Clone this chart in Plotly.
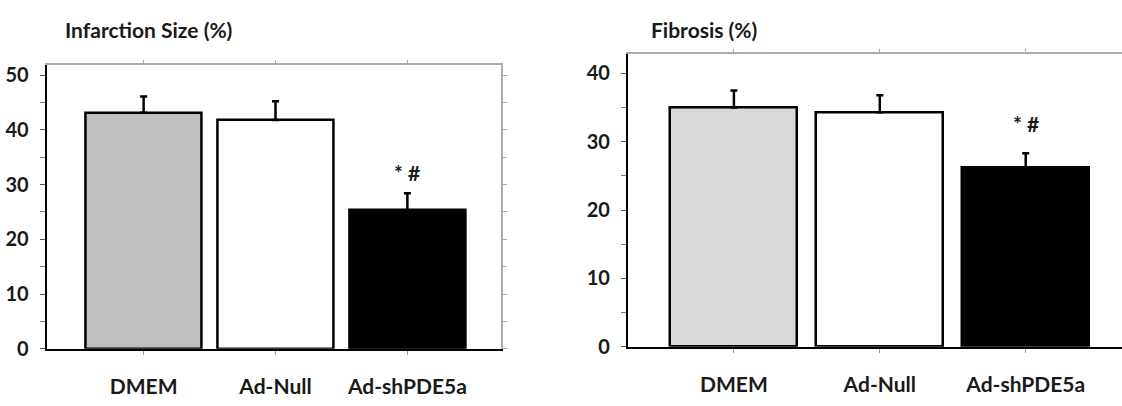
import plotly.graph_objects as go

categories = ["DMEM", "Ad-Null", "Ad-shPDE5a"]

infarct_mean = [43.1, 41.8, 25.3]
infarct_err = [3.0, 3.4, 3.1]

fibrosis_mean = [35.0, 34.3, 26.2]
fibrosis_err = [2.5, 2.5, 2.1]

sig_label = ["", "", "* #"]

left_colors = ["#bfbfbf", "#ffffff", "#000000"]
right_colors = ["#d9d9d9", "#ffffff", "#000000"]

FONT = "Lato"
idx = list(range(len(categories)))
bold_cats = ["<b>" + c + "</b>" for c in categories]

fig = go.Figure()

fig.add_trace(go.Bar(
    x=idx, y=infarct_mean, width=0.88,
    marker=dict(color=left_colors, line=dict(color="#000000", width=2.5)),
    error_y=dict(type="data", array=infarct_err, arrayminus=[0] * 3, symmetric=False,
                 color="#000000", thickness=2.5, width=3.5),
    xaxis="x", yaxis="y", showlegend=False, hoverinfo="skip",
))
fig.add_trace(go.Bar(
    x=idx, y=fibrosis_mean, width=0.87,
    marker=dict(color=right_colors, line=dict(color="#000000", width=2.5)),
    error_y=dict(type="data", array=fibrosis_err, arrayminus=[0] * 3, symmetric=False,
                 color="#000000", thickness=2.5, width=3.5),
    xaxis="x2", yaxis="y2", showlegend=False, hoverinfo="skip",
))
fig.add_trace(go.Scatter(x=[None], y=[None], xaxis="x3", yaxis="y3", showlegend=False, hoverinfo="skip"))
fig.add_trace(go.Scatter(x=[None], y=[None], xaxis="x4", yaxis="y4", showlegend=False, hoverinfo="skip"))

LX = [-0.735, 2.707]
LY = [0, 51.85]
RX = [-0.726, 2.66]
RY = [0, 42.9]
LDX = [0.0416, 0.4462]
LDY = [0.118, 0.842]
RDX = [0.5597, 1.0]
RDY = [0.123, 0.871]

tickfont = dict(family=FONT, size=20, color="#1a1a1a")
catfont = dict(family=FONT, size=21, color="#1a1a1a")

common_x = dict(
    tickmode="array", tickvals=idx, ticktext=bold_cats,
    showline=True, linecolor="#000000", linewidth=2,
    ticks="outside", ticklen=4, tickcolor="#999999", tickwidth=1,
    tickfont=catfont, ticklabelstandoff=14, showgrid=False, zeroline=False,
    fixedrange=True,
)
common_y = dict(
    showline=True, linecolor="#000000", linewidth=2,
    ticks="outside", ticklen=5, tickcolor="#555555", tickwidth=1,
    dtick=10, tick0=0, tickprefix="<b>", ticksuffix="</b>",
    minor=dict(dtick=5, ticks="outside", ticklen=5, tickcolor="#777777", showgrid=False),
    tickfont=tickfont, ticklabelstandoff=7, showgrid=False, zeroline=False,
    fixedrange=True,
)

fig.update_layout(
    width=1122, height=406,
    margin=dict(l=0, r=0, t=0, b=0),
    paper_bgcolor="#ffffff", plot_bgcolor="#ffffff",
    bargap=0,
    xaxis=dict(domain=LDX, range=LX, anchor="y", **common_x),
    yaxis=dict(domain=LDY, range=LY, anchor="x", **common_y),
    xaxis2=dict(domain=RDX, range=RX, anchor="y2", **common_x),
    yaxis2=dict(domain=RDY, range=RY, anchor="x2", **common_y),
    xaxis3=dict(overlaying="x", side="top", anchor="y3", range=LX, showline=True,
                linecolor="#aaaaaa", linewidth=1.5, ticks="outside", ticklen=3,
                tickcolor="#aaaaaa", tickmode="array", tickvals=idx,
                showticklabels=False, showgrid=False, zeroline=False, fixedrange=True),
    yaxis3=dict(overlaying="y", side="right", anchor="x3", range=LY, showline=True,
                linecolor="#aaaaaa", linewidth=1.5, ticks="outside", ticklen=5,
                tickcolor="#aaaaaa", dtick=5, tick0=0,
                showticklabels=False, showgrid=False, zeroline=False, fixedrange=True),
    xaxis4=dict(overlaying="x2", side="top", anchor="y4", range=RX, showline=True,
                linecolor="#aaaaaa", linewidth=1.5, ticks="outside", ticklen=3,
                tickcolor="#aaaaaa", tickmode="array", tickvals=idx,
                showticklabels=False, showgrid=False, zeroline=False, fixedrange=True),
    yaxis4=dict(overlaying="y2", side="right", anchor="x4", range=RY, showline=False,
                showticklabels=False, showgrid=False, zeroline=False, fixedrange=True),
)

fig.add_annotation(text="<b>Infarction Size (%)</b>", xref="paper", yref="paper",
                   x=63 / 1122, y=1 - 27 / 406, xanchor="left", yanchor="middle",
                   showarrow=False, font=dict(family=FONT, size=21, color="#1a1a1a"))
fig.add_annotation(text="<b>Fibrosis (%)</b>", xref="paper", yref="paper",
                   x=649 / 1122, y=1 - 27 / 406, xanchor="left", yanchor="middle",
                   showarrow=False, font=dict(family=FONT, size=21, color="#1a1a1a"))

for i, lbl in enumerate(sig_label):
    if lbl:
        fig.add_annotation(text="<b>" + lbl + "</b>", x=i, y=infarct_mean[i] + infarct_err[i],
                           xref="x", yref="y", yanchor="bottom", yshift=6, showarrow=False,
                           font=dict(family=FONT, size=21, color="#1a1a1a"))
        fig.add_annotation(text="<b>" + lbl + "</b>", x=i, y=fibrosis_mean[i] + fibrosis_err[i],
                           xref="x2", yref="y2", yanchor="bottom", yshift=15, showarrow=False,
                           font=dict(family=FONT, size=21, color="#1a1a1a"))

fig.write_html(
    "out.html",
    config={"displayModeBar": False},
    post_script="document.body.style.margin='0';document.body.style.overflow='hidden';",
)
